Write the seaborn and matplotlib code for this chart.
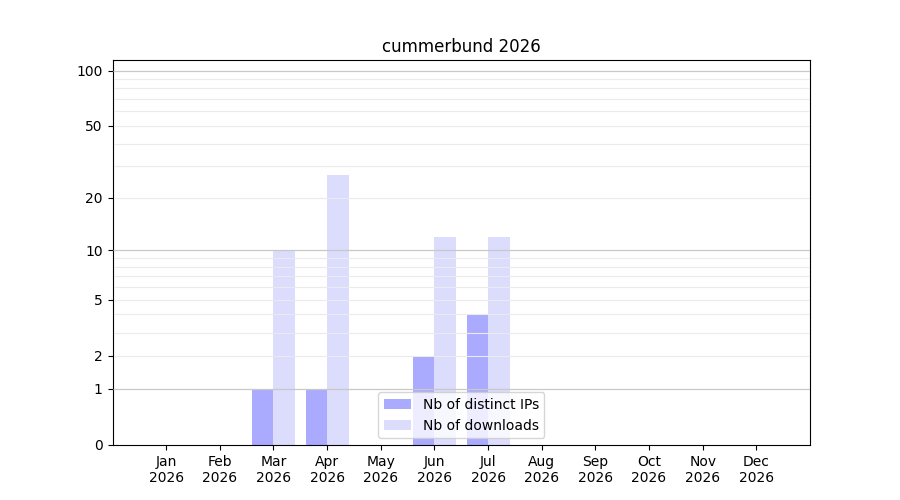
import numpy as np
import pandas as pd
import matplotlib
matplotlib.use("Agg")
import matplotlib.pyplot as plt
from matplotlib.ticker import NullLocator
import seaborn as sns

# data
months = ["Jan", "Feb", "Mar", "Apr", "May", "Jun",
          "Jul", "Aug", "Sep", "Oct", "Nov", "Dec"]
year = "2026"
distinct_ips = [0, 0, 1, 1, 0, 2, 4, 0, 0, 0, 0, 0]
downloads = [0, 0, 10, 27, 0, 12, 12, 0, 0, 0, 0, 0]
series_names = ["Nb of distinct IPs", "Nb of downloads"]
y_ticks = [0, 1, 2, 5, 10, 20, 50, 100]

labels = [m + "\n" + year for m in months]
df = pd.DataFrame({
    "month": labels * 2,
    "value": distinct_ips + downloads,
    "series": [series_names[0]] * 12 + [series_names[1]] * 12,
})

fig, ax = plt.subplots(figsize=(9, 5), dpi=100)

sns.barplot(data=df, x="month", y="value", hue="series", ax=ax,
            palette=["#aaaaff", "#dcdcfd"], saturation=1, width=0.8,
            linewidth=0, legend=True)

# log(1+x) scale
ax.set_yscale("function", functions=(lambda v: np.log10(1 + np.clip(v, 0, None)),
                                      lambda v: 10 ** v - 1))
ax.set_ylim(0, 114)
ax.set_xlim(-1, 12)
ax.set_yticks(y_ticks)
ax.set_yticklabels([str(t) for t in y_ticks])
ax.yaxis.set_minor_locator(NullLocator())
ax.tick_params(axis="y", which="minor", left=False)
ax.grid(False)

# light lines inside each decade, darker ones at the decades
for v in [2, 3, 4, 5, 6, 7, 8, 9, 20, 30, 40, 50, 60, 70, 80, 90]:
    ax.axhline(v, xmin=0.002, color="#ebebeb", linewidth=0.8, zorder=3,
               solid_capstyle="butt")
for v in [1, 10, 100]:
    ax.axhline(v, color="#c8c8c8", linewidth=0.9, zorder=3,
               solid_capstyle="butt")

ax.set_xlabel("")
ax.set_ylabel("")
ax.set_title("cummerbund 2026")
ax.legend(loc="lower center", title=None)

fig.savefig("out.png", dpi=100)
